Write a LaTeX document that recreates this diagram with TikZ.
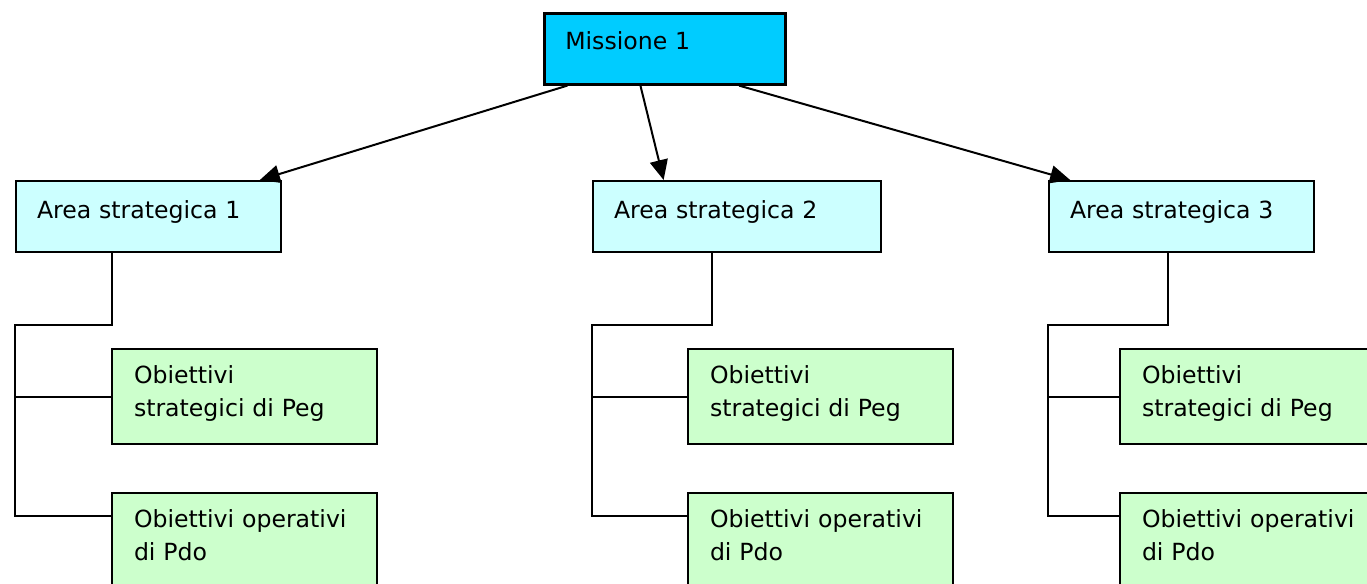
\documentclass[tikz,border=0pt]{standalone}
\usepackage{fontspec}
\setmainfont{DejaVu Sans}
\usepackage{tikz}
\usetikzlibrary{arrows.meta,positioning,calc}
\definecolor{missblue}{HTML}{00CCFF}
\definecolor{areacyan}{HTML}{CCFFFF}
\definecolor{objgreen}{HTML}{CCFFCC}

\begin{document}
\begin{tikzpicture}[x=0.5pt,y=-0.5pt,
			box/.style={draw=black,line width=1pt,anchor=north west,align=left,inner ysep=0pt,
				font=\fontsize{11.8pt}{16.5pt}\selectfont},
			missione/.style={box,fill=missblue,line width=1.3pt,inner xsep=10.5pt,text width=99.5pt,text height=18pt,text depth=17.5pt},
			area/.style={box,fill=areacyan,inner xsep=10.5pt,text width=111.5pt,text height=18.5pt,text depth=17pt},
			obiettivo/.style={box,fill=objgreen,inner xsep=11pt,text width=110.5pt,text height=17pt,text depth=30.5pt},
			freccia/.style={line width=1pt,-{Triangle[length=10pt,width=9pt]}},
			ramo/.style={line width=1pt}
			]
			\clip (0,0) rectangle (1367,584);
			\node[missione] (mis) at (543,12) {Missione 1};
			\node[area] (a1) at (15,180) {Area strategica 1};
			\node[area,text width=123pt] (a2) at (592,180) {Area strategica 2};
			\node[area] (a3) at (1048,180) {Area strategica 3};
			\node[obiettivo] (peg1) at (111,348) {Obiettivi\\strategici di Peg};
			\node[obiettivo] (pdo1) at (111,492) {Obiettivi operativi\\di Pdo};
			\node[obiettivo] (peg2) at (687,348) {Obiettivi\\strategici di Peg};
			\node[obiettivo] (pdo2) at (687,492) {Obiettivi operativi\\di Pdo};
			\node[obiettivo] (peg3) at (1119,348) {Obiettivi\\strategici di Peg};
			\node[obiettivo] (pdo3) at (1119,492) {Obiettivi operativi\\di Pdo};
			% frecce dalla missione
			\draw[freccia] ($(mis.south west)!0.1!(mis.south east)$) -- ($(a1.north west)!0.917!(a1.north east)$);
			\draw[freccia] ($(mis.south west)!0.4!(mis.south east)$) -- ($(a2.north west)!0.247!(a2.north east)$);
			\draw[freccia] ($(mis.south west)!0.805!(mis.south east)$) -- ($(a3.north west)!0.083!(a3.north east)$);
			% rami verso gli obiettivi
			\foreach \g/\d in {1/97,2/120,3/120}{
				\coordinate (k\g) at ($(a\g.south west)+(\d,72)$);
				\coordinate (b\g) at ($(pdo\g.north west)+(0,24)$);
				\draw[ramo] ($(a\g.south west)+(\d,0)$) -- (k\g) -| (b\g -| a\g.west) -- (b\g);
				\draw[ramo] (peg\g.west -| a\g.west) -- (peg\g.west);
			}
		\end{tikzpicture}
\end{document}
